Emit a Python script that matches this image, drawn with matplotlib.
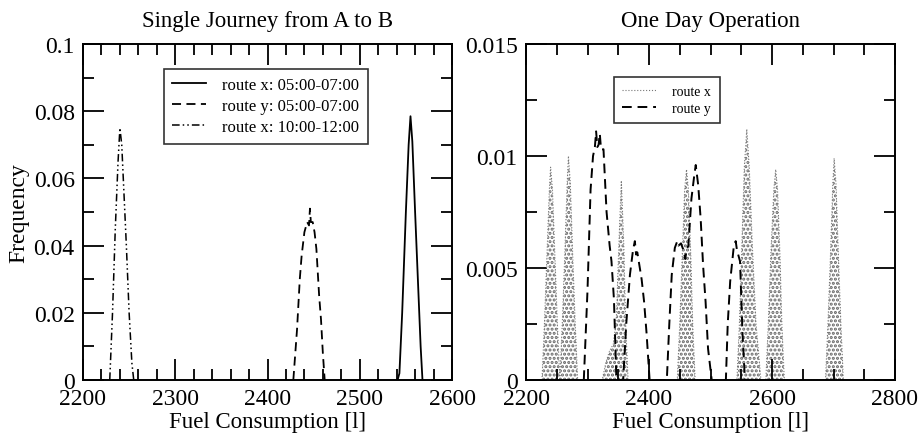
import numpy as np
import matplotlib.pyplot as plt

plt.rcParams['font.family'] = ['Liberation Serif', 'DejaVu Serif']
plt.rcParams['hatch.linewidth'] = 1.5
plt.rcParams['hatch.color'] = '#666666'

# left panel: single journey
jx_am_x = [2541, 2543, 2546, 2550, 2553, 2555, 2557, 2560, 2563, 2566, 2568]
jx_am_y = [0, 0.002, 0.02, 0.05, 0.07, 0.0785, 0.071, 0.05, 0.03, 0.01, 0]

jy_am_x = [2428, 2432, 2435, 2437, 2440, 2443, 2445, 2446, 2447, 2449, 2451, 2453, 2456, 2458, 2460, 2462]
jy_am_y = [0, 0.015, 0.03, 0.037, 0.044, 0.047, 0.046, 0.051, 0.047, 0.047, 0.044, 0.039, 0.025, 0.018, 0.008, 0]

jx_mid_x = [2229, 2232, 2235, 2238, 2240, 2242, 2244, 2247, 2250, 2253, 2255]
jx_mid_y = [0, 0.02, 0.045, 0.065, 0.075, 0.07, 0.058, 0.04, 0.02, 0.005, 0]

# right panel: one day, route x peaks
dx_x = [2226, 2230, 2234, 2238, 2240, 2243, 2247, 2251, 2255,
        2255, 2259, 2263, 2267, 2269, 2272, 2276, 2280, 2284,
        2324, 2330, 2336, 2342, 2347, 2351, 2355, 2359, 2362, 2366,
        2446, 2450, 2454, 2458, 2461, 2464, 2468, 2471, 2475,
        2543, 2547, 2551, 2555, 2559, 2563, 2568, 2574, 2582,
        2590, 2594, 2598, 2603, 2606, 2609, 2613, 2616, 2620,
        2687, 2691, 2695, 2699, 2701, 2704, 2708, 2712, 2716]
dx_y = [0, 0.0025, 0.0055, 0.0085, 0.0095, 0.0085, 0.0055, 0.0025, 0,
        0, 0.0025, 0.0055, 0.0088, 0.010, 0.0088, 0.0055, 0.0025, 0,
        0, 0.0008, 0.0013, 0.0016, 0.0028, 0.0060, 0.0089, 0.0060, 0.0025, 0,
        0, 0.0025, 0.0055, 0.0085, 0.0094, 0.0085, 0.0055, 0.0025, 0,
        0, 0.0025, 0.0060, 0.0095, 0.0112, 0.0095, 0.0060, 0.0025, 0,
        0, 0.0025, 0.0055, 0.0085, 0.0094, 0.0085, 0.0055, 0.0025, 0,
        0, 0.0025, 0.0055, 0.0088, 0.0099, 0.0088, 0.0055, 0.0025, 0]

# route y peaks
dy_x = [2294, 2300, 2305, 2309, 2312, 2314, 2316, 2318, 2320, 2322, 2326, 2331, 2336, 2339, 2343, 2347,
        2358, 2363, 2369, 2374, 2377, 2379, 2381, 2388, 2392, 2396, 2401,
        2429, 2433, 2437, 2442, 2446, 2448, 2452, 2456, 2459, 2461, 2464, 2469, 2473, 2476, 2480, 2484, 2488, 2492, 2496, 2502,
        2525, 2528, 2532, 2538, 2541, 2543, 2548, 2552, 2556]
dy_y = [0, 0.004, 0.0085, 0.010, 0.0104, 0.0111, 0.0104, 0.0105, 0.0110, 0.0103, 0.0103, 0.0075, 0.006, 0.0053, 0.0036, 0,
        0, 0.0025, 0.0047, 0.0058, 0.0062, 0.0056, 0.0057, 0.0045, 0.0035, 0.0021, 0,
        0, 0.0025, 0.0047, 0.0059, 0.0062, 0.0060, 0.0061, 0.0058, 0.0054, 0.0058, 0.0060, 0.0081, 0.0090, 0.0096, 0.0087, 0.0072, 0.0051, 0.0035, 0.0014, 0,
        0, 0.0025, 0.0044, 0.0060, 0.0062, 0.0058, 0.0053, 0.0021, 0]

left_xticks = [2200, 2300, 2400, 2500, 2600]
left_yticks = [0, 0.02, 0.04, 0.06, 0.08, 0.1]
left_ylabels = ['0', '0.02', '0.04', '0.06', '0.08', '0.1']
right_xticks = [2200, 2400, 2600, 2800]
right_yticks = [0, 0.005, 0.01, 0.015]
right_ylabels = ['0', '0.005', '0.01', '0.015']

fig = plt.figure(figsize=(9.24, 4.39), dpi=100)
ax1 = fig.add_axes([83/924, 1-381/439, 369/924, 336/439])
ax2 = fig.add_axes([526/924, 1-381/439, 369/924, 336/439])

def style(ax):
    for s in ax.spines.values():
        s.set_linewidth(1.4)
    ax.tick_params(which='both', direction='in', top=True, right=True,
                   width=1.3, labelsize=17, pad=6)
    ax.tick_params(which='major', length=15)
    ax.tick_params(which='minor', length=8)

ax1.plot(jx_am_x, jx_am_y, color='black', lw=1.3, label='route x: 05:00-07:00')
ax1.plot(jy_am_x, jy_am_y, color='black', lw=1.3, ls=(0, (5, 3)), label='route y: 05:00-07:00')
ax1.plot(jx_mid_x, jx_mid_y, color='black', lw=1.1, ls=(0, (5, 2, 1, 2, 1, 2)), label='route x: 10:00-12:00')
ax1.set_xlim(2200, 2600)
ax1.set_ylim(0, 0.1)
ax1.set_xticks(left_xticks)
ax1.set_xticks(np.arange(2200, 2601, 20), minor=True)
ax1.set_yticks(left_yticks, left_ylabels)
ax1.set_yticks(np.arange(0, 0.1001, 0.01), minor=True)
style(ax1)
ax1.set_title('Single Journey from A to B', fontsize=16.5, pad=13)
ax1.set_xlabel('Fuel Consumption [l]', fontsize=16.5, labelpad=1)
ax1.set_ylabel('Frequency', fontsize=17, labelpad=3)
leg1 = ax1.legend(loc='upper left', bbox_to_anchor=(0.2195, 0.9256), borderaxespad=0,
                  fontsize=12, frameon=True, fancybox=False, edgecolor='black',
                  handlelength=2.0, handletextpad=1.0, borderpad=0.5, labelspacing=0.3)
leg1.get_frame().set_linewidth(1.2)

ax2.fill_between(dx_x, dx_y, 0, facecolor='none', edgecolor='#666666', hatch='....', lw=0)
ax2.plot(dx_x, dx_y, color='#777777', lw=0.8, ls=':', label='route x')
ax2.plot(dy_x, dy_y, color='black', lw=1.4, ls=(0, (5, 3)), label='route y')
ax2.set_xlim(2200, 2800)
ax2.set_ylim(0, 0.015)
ax2.set_xticks(right_xticks)
ax2.set_xticks(np.arange(2200, 2801, 50), minor=True)
ax2.set_yticks(right_yticks, right_ylabels)
ax2.set_yticks(np.arange(0, 0.01501, 0.0025), minor=True)
style(ax2)
ax2.set_title('One Day Operation', fontsize=16.5, pad=13)
ax2.set_xlabel('Fuel Consumption [l]', fontsize=16.5, labelpad=1)
leg2 = ax2.legend(loc='upper left', bbox_to_anchor=(0.2385, 0.902), borderaxespad=0,
                  fontsize=10, frameon=True, fancybox=False, edgecolor='black',
                  handlelength=2.4, handletextpad=1.2, borderpad=0.6, labelspacing=0.25)
leg2.get_frame().set_linewidth(1.2)

fig.savefig('out.png', dpi=100)
